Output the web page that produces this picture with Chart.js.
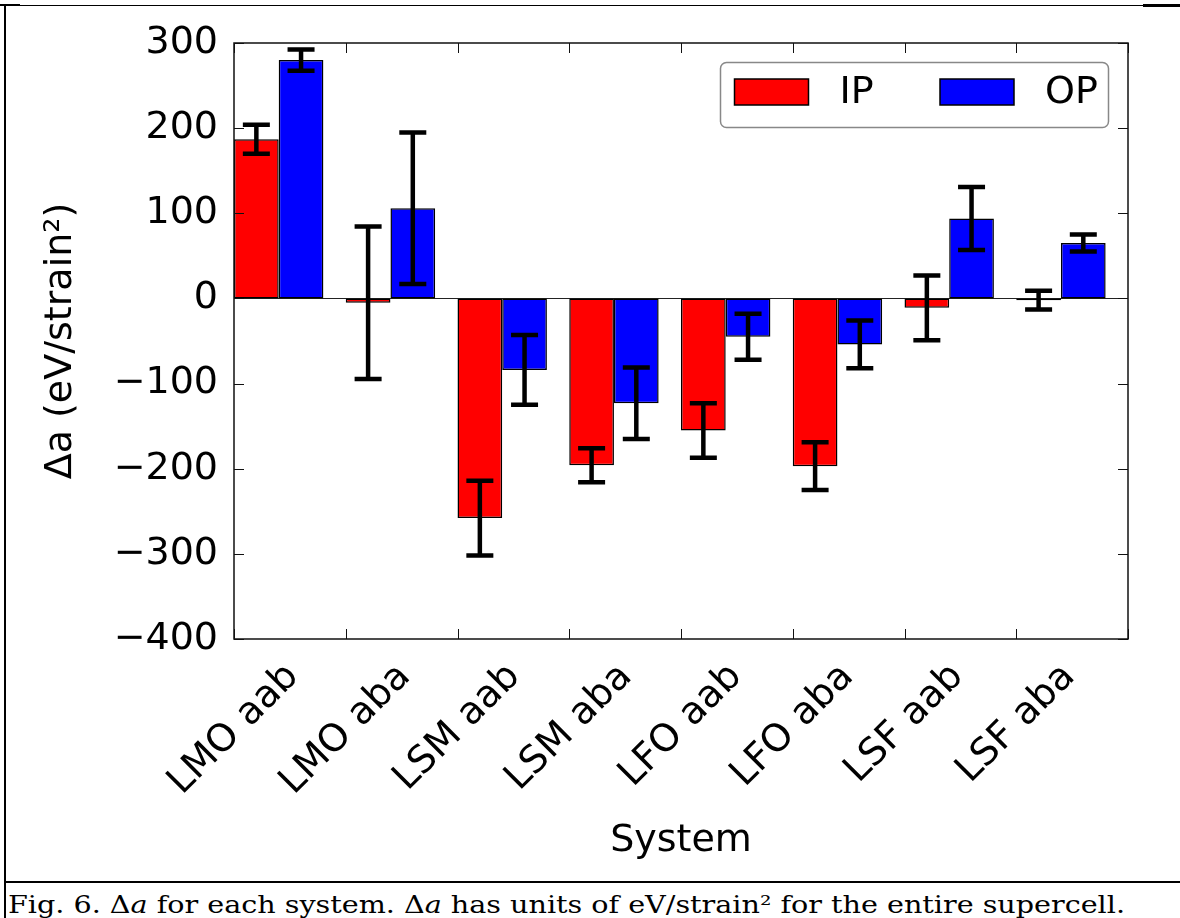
<!DOCTYPE html>
<html><head><meta charset="utf-8">
<script src="https://cdn.jsdelivr.net/npm/chart.js@4.4.1/dist/chart.umd.min.js"></script>
<style>
html,body{margin:0;padding:0;background:#fff;width:1180px;height:918px;overflow:hidden;}
#wrap{position:relative;width:1180px;height:918px;background:#fff;}
canvas{position:absolute;left:0;top:0;}
.ln{position:absolute;background:#000;}
#cap{position:absolute;left:8px;top:893px;font-family:'DejaVu Serif Condensed','DejaVu Serif';font-size:24px;line-height:24px;white-space:nowrap;transform-origin:0 0;color:#000;}
</style></head><body>
<div id="wrap">
<canvas id="c" width="1180" height="880"></canvas>
<div class="ln" style="left:0;top:5px;width:1180px;height:1px;"></div>
<div class="ln" style="left:0;top:4px;width:20px;height:2px;"></div>
<div class="ln" style="left:1143px;top:4px;width:37px;height:3px;"></div>
<div class="ln" style="left:4px;top:5px;width:2px;height:913px;"></div>
<div class="ln" style="left:4px;top:881px;width:1176px;height:2px;"></div>
<div id="cap">Fig. 6. Δ<i>a</i> for each system. Δ<i>a</i> has units of eV/strain² for the entire supercell.</div>
</div>
<script>
// ---- data ----
const categories = ['LMO aab','LMO aba','LSM aab','LSM aba','LFO aab','LFO aba','LSF aab','LSF aba'];
const seriesNames = ['IP','OP'];
const ipValues = [187, -5, -258, -196, -155, -197, -11, -2];
const ipErrors = [17, 89.5, 44, 20, 32, 28, 38, 11];
const opValues = [280, 106, -84, -123, -45, -54, 94, 65];
const opErrors = [12.5, 89, 41, 42, 27, 28, 37, 10];
const yTickValues = [-400, -300, -200, -100, 0, 100, 200, 300];

const FONT = 'DejaVu Sans';
Chart.defaults.font.family = FONT;
Chart.defaults.color = '#000';

const toPoints = vals => vals.map((v, i) => ({x: i + 0.4, y: v}));

const zeroLine = {
  id: 'zeroLine',
  beforeDatasetsDraw(chart) {
    const {ctx, chartArea: a, scales: {y}} = chart;
    const py = Math.round(y.getPixelForValue(0)) + 0.5;
    ctx.save();
    ctx.strokeStyle = '#222'; ctx.lineWidth = 1;
    ctx.beginPath(); ctx.moveTo(a.left, py); ctx.lineTo(a.right, py); ctx.stroke();
    ctx.restore();
  }
};

const errorBars = {
  id: 'errorBars',
  afterDatasetsDraw(chart) {
    const {ctx, scales: {y}} = chart;
    ctx.save();
    ctx.strokeStyle = '#000';
    chart.data.datasets.forEach((ds, d) => {
      const meta = chart.getDatasetMeta(d);
      meta.data.forEach((el, i) => {
        const v = ds.data[i].y, e = ds.errors[i];
        const top = y.getPixelForValue(v + e), bot = y.getPixelForValue(v - e);
        ctx.lineWidth = 4.5;
        ctx.beginPath(); ctx.moveTo(el.x, top); ctx.lineTo(el.x, bot); ctx.stroke();
        ctx.beginPath();
        ctx.moveTo(el.x - 13.5, top); ctx.lineTo(el.x + 13.5, top);
        ctx.moveTo(el.x - 13.5, bot); ctx.lineTo(el.x + 13.5, bot);
        ctx.stroke();
      });
    });
    ctx.restore();
  }
};

const frameTicks = {
  id: 'frameTicks',
  afterDraw(chart) {
    const {ctx, chartArea: a, scales: {x, y}} = chart;
    ctx.save();
    ctx.strokeStyle = '#111'; ctx.lineWidth = 1.5;
    ctx.strokeRect(a.left, a.top, a.right - a.left, a.bottom - a.top);
    ctx.lineWidth = 1;
    ctx.beginPath();
    const L = 10;
    x.ticks.forEach(t => {
      const px = Math.round(x.getPixelForValue(t.value)) + 0.5;
      ctx.moveTo(px, a.bottom); ctx.lineTo(px, a.bottom - L);
      ctx.moveTo(px, a.top); ctx.lineTo(px, a.top + L);
    });
    y.ticks.forEach(t => {
      const py = Math.round(y.getPixelForValue(t.value)) + 0.5;
      ctx.moveTo(a.left, py); ctx.lineTo(a.left + L, py);
      ctx.moveTo(a.right, py); ctx.lineTo(a.right - L, py);
    });
    ctx.stroke();
    // rotated category labels, centred on each tick (matplotlib style)
    ctx.fillStyle = '#000';
    ctx.font = '38px "' + FONT + '"';
    ctx.textAlign = 'center'; ctx.textBaseline = 'middle';
    categories.forEach((lab, i) => {
      const px = x.getPixelForValue(i);
      const w = ctx.measureText(lab).width;
      const h = 38 * 1.1;
      const half = (w + h) * Math.SQRT1_2 / 2;
      ctx.save();
      ctx.translate(px, a.bottom + 17 + half);
      ctx.rotate(-Math.PI / 4);
      ctx.fillText(lab, 0, 0);
      ctx.restore();
    });
    // legend
    const bw = 388, bh = 65;
    const bx = a.right - 20 - bw, by = a.top + 19;
    ctx.lineWidth = 1.5; ctx.strokeStyle = '#888';
    ctx.beginPath();
    ctx.roundRect(bx + 0.5, by + 0.5, bw, bh, 6);
    ctx.stroke();
    const offs = [14.5, 220];
    chart.data.datasets.forEach((ds, d) => {
      const sx = bx + offs[d], sy = by + 17;
      ctx.fillStyle = ds.backgroundColor;
      ctx.fillRect(sx, sy, 74, 26);
      ctx.strokeStyle = '#000'; ctx.lineWidth = 1.5;
      ctx.strokeRect(sx, sy, 74, 26);
      ctx.fillStyle = '#000';
      ctx.textAlign = 'left'; ctx.textBaseline = 'middle';
      ctx.fillText(ds.label, sx + 105, sy + 14);
    });
    ctx.restore();
  }
};

new Chart(document.getElementById('c'), {
  type: 'bar',
  data: {
    datasets: [
      {label: seriesNames[0], data: toPoints(ipValues), errors: ipErrors, backgroundColor: '#ff0000',
       borderColor: '#000', borderWidth: 1.5, borderSkipped: false},
      {label: seriesNames[1], data: toPoints(opValues), errors: opErrors, backgroundColor: '#0000ff',
       borderColor: '#000', borderWidth: 1.5, borderSkipped: false}
    ]
  },
  options: {
    responsive: false, animation: false,
    layout: {padding: {left: 0, right: 52, top: 43, bottom: 0}},
    datasets: {bar: {categoryPercentage: 0.8, barPercentage: 1.0}},
    plugins: {legend: {display: false}, tooltip: {enabled: false}},
    scales: {
      x: {type: 'linear', min: 0, max: categories.length, offset: false,
          grid: {display: false, drawTicks: false}, border: {display: false},
          ticks: {display: false, stepSize: 1},
          title: {display: true, text: 'System', color: '#000', font: {size: 38}, padding: {top: 0, bottom: 16}},
          afterFit(s) { s.height = 241; }},
      y: {min: yTickValues[0], max: yTickValues[yTickValues.length - 1],
          grid: {display: false, drawTicks: false}, border: {display: false},
          ticks: {stepSize: 100, padding: 16, color: '#000', font: {size: 38},
                  callback: v => v < 0 ? '\u2212' + Math.abs(v) : String(v)},
          title: {display: true, text: 'Δa (eV/strain²)', color: '#000', font: {size: 38}, padding: {top: 38, bottom: 0}},
          afterFit(s) { s.width = 234; }}
    }
  },
  plugins: [zeroLine, errorBars, frameTicks]
});

function fitCaption() {
  const cap = document.getElementById('cap');
  cap.style.transform = 'none';
  const w = cap.getBoundingClientRect().width;
  cap.style.transform = 'scaleX(' + (1117 / w) + ')';
}
fitCaption();
if (document.fonts) document.fonts.ready.then(fitCaption);
</script>
</body></html>
